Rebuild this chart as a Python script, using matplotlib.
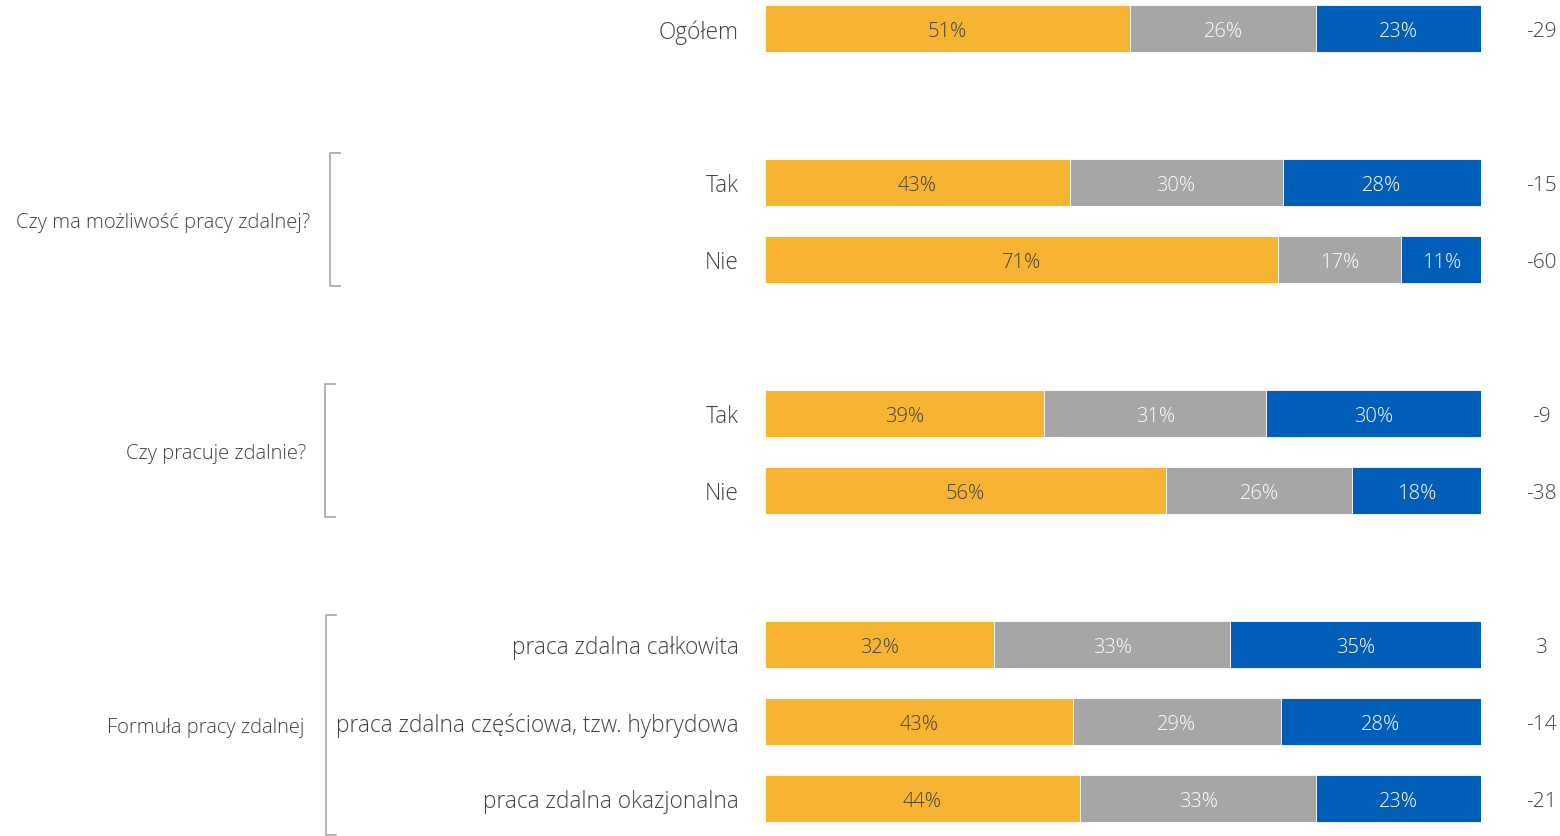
import numpy as np
import matplotlib.pyplot as plt
from matplotlib.transforms import blended_transform_factory
from matplotlib import font_manager

# dane
rows = ['Ogółem', 'Tak', 'Nie', 'Tak', 'Nie',
        'praca zdalna całkowita', 'praca zdalna częściowa, tzw. hybrydowa',
        'praca zdalna okazjonalna']
row_pos = [0, 2, 3, 5, 6, 8, 9, 10]
neg = [51, 43, 71, 39, 56, 32, 43, 44]
mid = [26, 30, 17, 31, 26, 33, 29, 33]
pos = [23, 28, 11, 30, 18, 35, 28, 23]
net = ['-29', '-15', '-60', '-9', '-38', '3', '-14', '-21']

groups = ['Czy ma możliwość pracy zdalnej?', 'Czy pracuje zdalnie?', 'Formuła pracy zdalnej']
group_rows = [(2, 3), (5, 6), (8, 10)]

colors = ['#F7B432', '#A6A6A6', '#005EB8']
text_colors = ['#404040', 'white', 'white']

names = {f.name for f in font_manager.fontManager.ttflist}
family = 'Open Sans' if 'Open Sans' in names else 'DejaVu Sans'
plt.rcParams['font.family'] = [family, 'DejaVu Sans']

fig = plt.figure(figsize=(15.6, 8.37), dpi=100)
ax = fig.add_axes([765 / 1560, 0, 716 / 1560, 1])

vals = np.array([neg, mid, pos], dtype=float)
vals = vals / vals.sum(axis=0) * 100
left = np.zeros(len(rows))
for k in range(3):
    ax.barh(row_pos, vals[k], left=left, height=0.61, color=colors[k],
            edgecolor='white', linewidth=0.6)
    raw = [neg, mid, pos][k]
    for y, l, w, r in zip(row_pos, left, vals[k], raw):
        ax.text(l + w / 2, y, f'{r}%', ha='center', va='center_baseline',
                fontsize=14.5, color=text_colors[k], fontweight='light')
    left += vals[k]

ax.set_xlim(0, 100)
ax.set_ylim((837 - 29.5) / 77, -29.5 / 77)
ax.axis('off')

tr = blended_transform_factory(fig.transFigure, ax.transData)
for y, lab, n in zip(row_pos, rows, net):
    ax.text(739 / 1560, y, lab, transform=tr, ha='right', va='center_baseline',
            fontsize=16.3, color='#404040', fontweight='light')
    ax.text(1541 / 1560, y, n, transform=tr, ha='center', va='center_baseline',
            fontsize=15, color='#404040', fontweight='light')

# nawiasy grup
bx = [330, 325, 326]
lab_x = [310, 306, 304]
for g, (a, b), x0, lx in zip(groups, group_rows, bx, lab_x):
    top, bot = a - 0.38, b + 0.35 if b < 10 else b + 0.47
    ax.plot([(x0 + 10) / 1560, x0 / 1560, x0 / 1560, (x0 + 10) / 1560],
            [top, top, bot, bot], transform=tr, color='#A6A6A6', lw=1.2,
            clip_on=False)
    ax.text(lx / 1560, (top + bot) / 2, g, transform=tr, ha='right',
            va='center_baseline', fontsize=14.5, color='#404040',
            fontweight='light')

fig.savefig('out.png', dpi=100, facecolor='white')
